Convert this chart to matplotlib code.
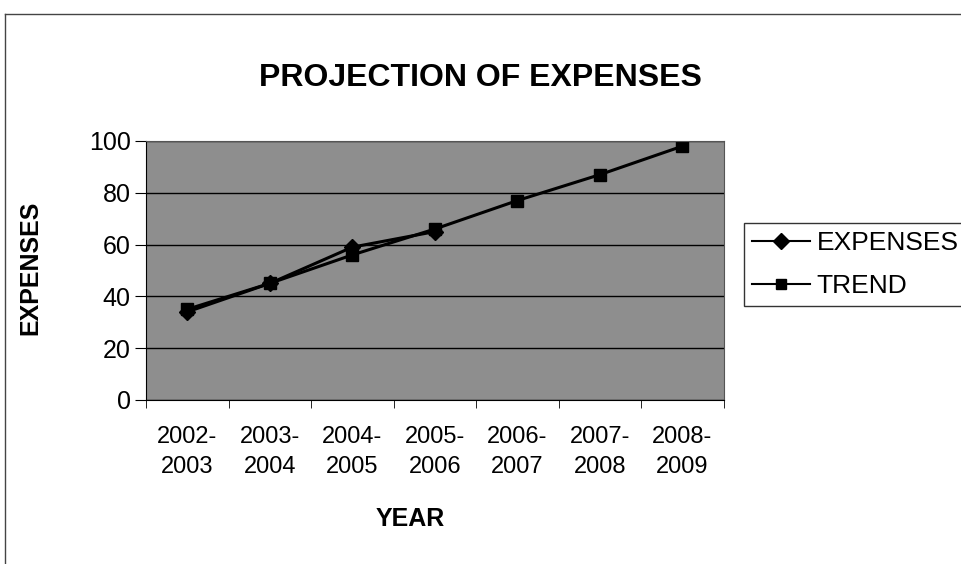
import matplotlib.pyplot as plt
from matplotlib.lines import Line2D

# Data
years = ['2002-\n2003', '2003-\n2004', '2004-\n2005', '2005-\n2006',
         '2006-\n2007', '2007-\n2008', '2008-\n2009']
expenses = [34, 45, 59, 65]
trend = [35, 45, 56, 66, 77, 87, 98]

plt.rcParams['font.family'] = ['Liberation Sans', 'DejaVu Sans']

fig = plt.figure(figsize=(9.61, 5.64), dpi=100)
ax = fig.add_axes([0.152, 0.291, 0.601, 0.459])
ax.set_facecolor('#8e8e8e')

x_exp = list(range(len(expenses)))
x_tr = list(range(len(trend)))
ax.plot(x_exp, expenses, color='black', lw=2.2, marker='D', ms=8, label='EXPENSES')
ax.plot(x_tr, trend, color='black', lw=2.2, marker='s', ms=8, label='TREND')

ax.set_xlim(-0.5, len(years) - 0.5)
ax.set_ylim(0, 100)
ax.set_yticks(range(0, 101, 20))
ax.yaxis.grid(True, color='black', lw=1)
ax.set_axisbelow(True)

# category labels centred, ticks on category boundaries
ax.set_xticks(x_tr)
ax.set_xticklabels(years, fontsize=17, linespacing=1.45)
ax.tick_params(axis='x', length=0, pad=19)
ax.set_xticks([i - 0.5 for i in range(len(years) + 1)], minor=True)
ax.tick_params(axis='x', which='minor', length=6, direction='out')
ax.tick_params(axis='y', labelsize=18, length=8, pad=3, direction='out')

for s in ['top', 'right']:
    ax.spines[s].set_color('#555555')
    ax.spines[s].set_linewidth(0.8)

ax.set_xlabel('YEAR', fontsize=18, fontweight='bold')
ax.xaxis.set_label_coords(0.458, -0.415)
ax.set_ylabel('EXPENSES', fontsize=18, fontweight='bold')
ax.yaxis.set_label_coords(-0.18, 0.51)

fig.text(0.5, 0.862, 'PROJECTION OF EXPENSES', ha='center', va='center',
         fontsize=23, fontweight='bold')

handles = [Line2D([], [], color='black', lw=1.5, marker='D', ms=8),
           Line2D([], [], color='black', lw=1.5, marker='s', ms=7)]
fig.legend(handles, ['EXPENSES', 'TREND'], loc='center left',
           bbox_to_anchor=(0.774, 0.531), fontsize=19, frameon=True,
           fancybox=False, edgecolor='black', handlelength=2.2,
           handletextpad=0.25, borderpad=0.3, labelspacing=0.7,
           borderaxespad=0)

# chart area border
fig.add_artist(Line2D([0.005, 1.0], [0.975, 0.975], color='#444444', lw=1,
                      transform=fig.transFigure))
fig.add_artist(Line2D([0.005, 0.005], [0.0, 0.975], color='#444444', lw=1,
                      transform=fig.transFigure))

fig.savefig('out.png', dpi=100)
